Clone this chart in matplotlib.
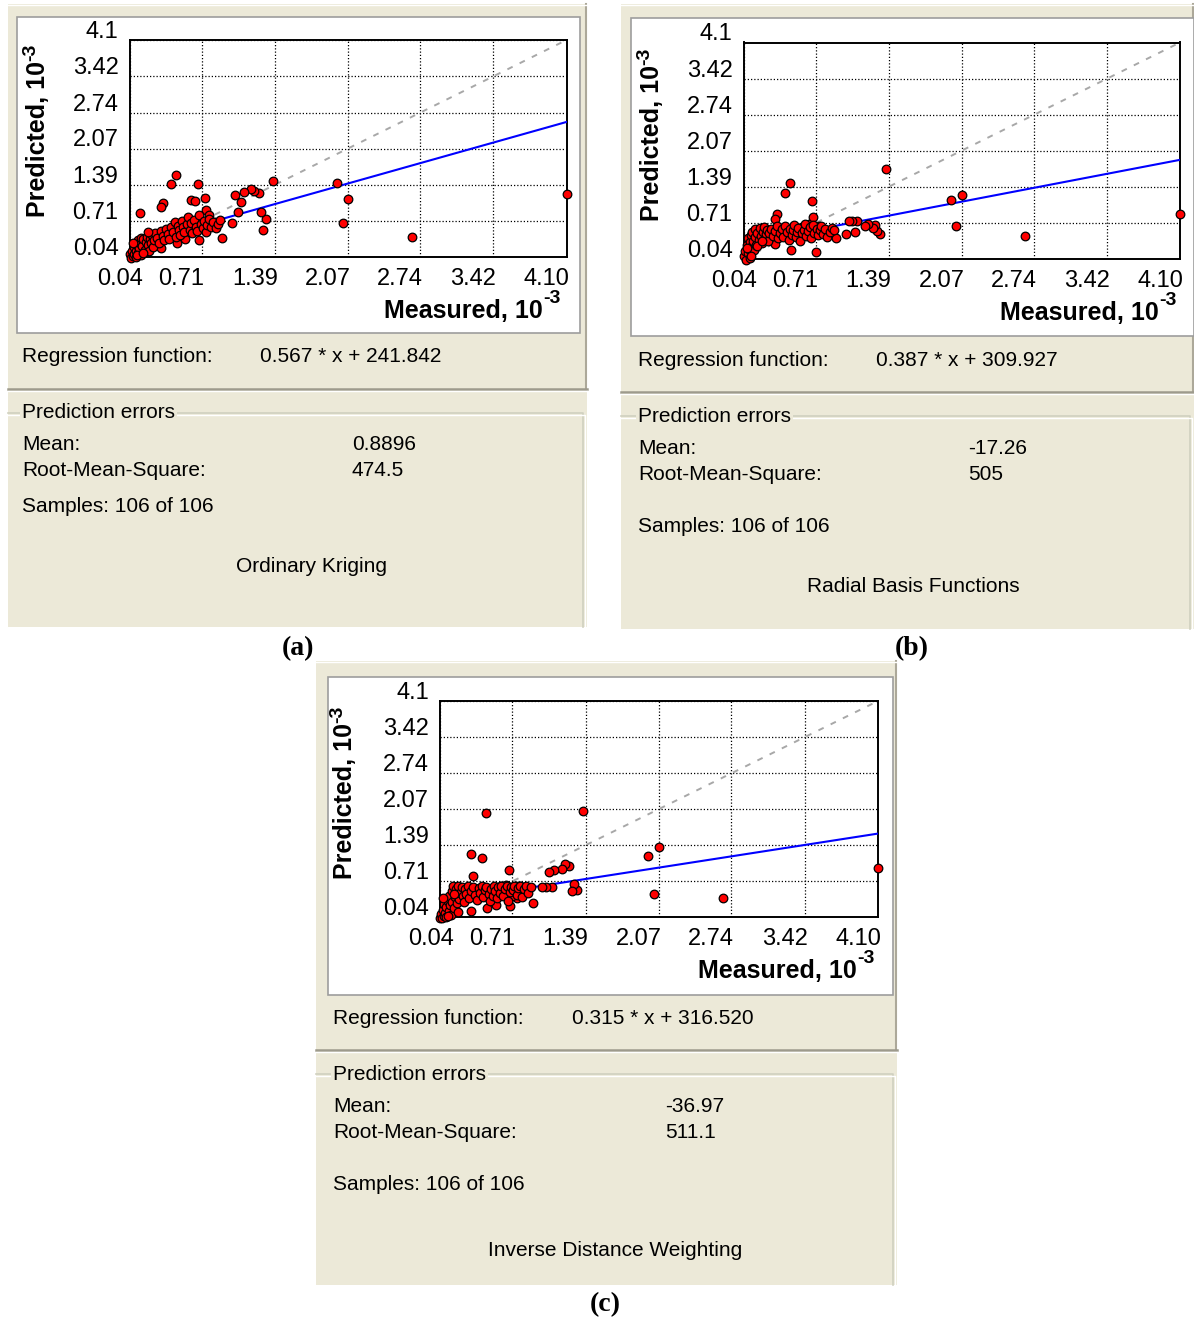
import matplotlib
matplotlib.use('Agg')
import matplotlib.pyplot as plt
from matplotlib.patches import Rectangle

# ---------------- data ----------------
TICKS = [0.04, 0.71, 1.39, 2.07, 2.74, 3.42, 4.10]
X_TICK_LABELS = ['0.04', '0.71', '1.39', '2.07', '2.74', '3.42', '4.10']
Y_TICK_LABELS = ['0.04', '0.71', '1.39', '2.07', '2.74', '3.42', '4.1']

# measured values (10^-3), shared by all three methods
measured_out = [4.10, 2.66, 2.07, 1.97, 2.02]
measured_mid = [1.37, 1.31, 1.28, 1.26, 1.24, 1.20, 1.17, 1.10, 1.08, 1.05, 1.02, 0.99, 0.90]
measured_hi = [0.47, 0.43, 0.68, 0.14, 0.35, 0.33, 0.61, 0.65, 0.74, 0.75, 0.78, 0.69, 0.56,
               0.48, 0.33, 0.71, 0.83]
measured_cl = [0.04, 0.05, 0.06, 0.07, 0.08, 0.08, 0.09, 0.10, 0.10, 0.11,
               0.12, 0.12, 0.13, 0.14, 0.15, 0.15, 0.16, 0.17, 0.18, 0.19,
               0.20, 0.21, 0.22, 0.23, 0.24, 0.25, 0.26, 0.27, 0.28, 0.30,
               0.31, 0.33, 0.35, 0.36, 0.38, 0.40, 0.41, 0.43, 0.44, 0.46,
               0.47, 0.49, 0.50, 0.51, 0.53, 0.54, 0.55, 0.57, 0.58, 0.60,
               0.61, 0.62, 0.64, 0.66, 0.67, 0.69, 0.70, 0.72, 0.73, 0.75,
               0.76, 0.78, 0.80, 0.82, 0.84, 0.86, 0.88, 0.07, 0.11, 0.17, 0.21]

# predicted, Ordinary Kriging
ok_out = [1.22, 0.41, 1.13, 1.43, 0.67]
ok_mid = [1.46, 0.75, 0.55, 0.89, 1.24, 1.27, 1.31, 1.26, 1.07, 0.89, 1.20, 0.67, 0.40]
ok_hi = [1.57, 1.41, 1.41, 0.86, 1.05, 0.97, 1.11, 1.08, 1.15, 0.92, 0.83, 0.36, 0.37,
         0.31, 0.21, 0.60, 0.70]
ok_cl = [0.10, 0.02, 0.15, 0.05, 0.22, 0.10, 0.30, 0.16, 0.04, 0.26,
         0.35, 0.12, 0.20, 0.30, 0.40, 0.08, 0.25, 0.37, 0.18, 0.32,
         0.42, 0.27, 0.15, 0.38, 0.30, 0.45, 0.22, 0.35, 0.48, 0.40,
         0.30, 0.52, 0.44, 0.36, 0.56, 0.47, 0.38, 0.60, 0.50, 0.70,
         0.42, 0.62, 0.54, 0.46, 0.72, 0.60, 0.50, 0.66, 0.78, 0.55,
         0.68, 0.48, 0.74, 0.60, 0.52, 0.82, 0.66, 0.58, 0.72, 0.50,
         0.64, 0.76, 0.60, 0.70, 0.58, 0.66, 0.74, 0.30, 0.08, 0.12, 0.50]

# predicted, Radial Basis Functions
rbf_out = [0.88, 0.46, 1.24, 1.15, 0.66]
rbf_mid = [1.72, 0.51, 0.56, 0.67, 0.62, 0.70, 0.66, 0.74, 0.55, 0.74, 0.74, 0.51, 0.42]
rbf_hi = [1.46, 1.27, 1.12, 0.55, 0.88, 0.78, 0.62, 0.70, 0.66, 0.55, 0.60, 0.83, 0.62,
          0.20, 0.32, 0.17, 0.51]
rbf_cl = [0.10, 0.18, 0.02, 0.30, 0.14, 0.42, 0.22, 0.35, 0.06, 0.48,
          0.27, 0.55, 0.38, 0.20, 0.60, 0.45, 0.30, 0.52, 0.40, 0.62,
          0.47, 0.34, 0.55, 0.64, 0.43, 0.50, 0.57, 0.38, 0.53, 0.60,
          0.46, 0.56, 0.66, 0.42, 0.52, 0.60, 0.45, 0.65, 0.54, 0.40,
          0.60, 0.48, 0.57, 0.68, 0.44, 0.55, 0.62, 0.38, 0.52, 0.58,
          0.70, 0.46, 0.56, 0.63, 0.43, 0.68, 0.53, 0.60, 0.48, 0.57,
          0.65, 0.50, 0.59, 0.45, 0.55, 0.62, 0.58, 0.25, 0.10, 0.28, 0.38]

# predicted, Inverse Distance Weighting
idw_out = [0.96, 0.39, 1.35, 1.19, 0.47]
idw_mid = [2.03, 0.55, 0.66, 0.52, 1.00, 1.04, 0.95, 0.92, 0.61, 0.88, 0.61, 0.61, 0.31]
idw_hi = [2.00, 1.15, 0.93, 0.45, 0.81, 1.23, 0.62, 0.65, 0.62, 0.39, 0.62, 0.24, 0.26,
          0.20, 0.15, 0.43, 0.55]
idw_cl = [0.03, 0.10, 0.02, 0.18, 0.06, 0.28, 0.12, 0.22, 0.04, 0.35,
          0.15, 0.44, 0.26, 0.08, 0.52, 0.32, 0.63, 0.20, 0.42, 0.56,
          0.30, 0.62, 0.38, 0.50, 0.60, 0.44, 0.33, 0.56, 0.47, 0.63,
          0.40, 0.53, 0.60, 0.45, 0.36, 0.58, 0.50, 0.63, 0.42, 0.55,
          0.61, 0.47, 0.34, 0.57, 0.44, 0.63, 0.52, 0.39, 0.60, 0.49,
          0.63, 0.43, 0.56, 0.62, 0.35, 0.51, 0.60, 0.54, 0.63, 0.46,
          0.58, 0.63, 0.41, 0.56, 0.63, 0.50, 0.60, 0.40, 0.05, 0.48, 0.14]

methods = ['Ordinary Kriging', 'Radial Basis Functions', 'Inverse Distance Weighting']
slopes = [0.567, 0.387, 0.315]
intercepts = [241.842, 309.927, 316.520]   # 10^-6 units
mean_err = ['0.8896', '-17.26', '-36.97']
rms_err = ['474.5', '505', '511.1']
samples = ['Samples: 106 of 106'] * 3
panel_tags = ['(a)', '(b)', '(c)']

measured = measured_out + measured_mid + measured_hi + measured_cl
predicted = [ok_out + ok_mid + ok_hi + ok_cl,
             rbf_out + rbf_mid + rbf_hi + rbf_cl,
             idw_out + idw_mid + idw_hi + idw_cl]

# ---------------- layout ----------------
W, H = 1194, 1320
fig = plt.figure(figsize=(W / 100, H / 100), dpi=100)
fig.patch.set_facecolor('white')
bg = fig.add_axes([0, 0, 1, 1])
bg.set_xlim(0, W)
bg.set_ylim(H, 0)
bg.axis('off')

BEIGE = '#ECE9D8'
EDGE = '#ACA899'
UI = 'Liberation Sans'

layouts = [
    dict(panel=(8, 4, 587, 627), box=(17, 17, 580, 333), frame=(129.5, 40, 566.5, 257),
         sep=389, gb=413, gbr=583, tx=22, vx_reg=260, vx_err=352,
         y_reg=357, y_pe=413, y_mean=445, y_rms=471, y_smp=507, y_meth=566, x_meth=312,
         pred_xy=(38, 139), meas_xy=(543, 311), tag_xy=(298, 649)),
    dict(panel=(621, 4, 1194, 629), box=(631, 18, 1194, 336), frame=(743.5, 42.5, 1180, 258.7),
         sep=392, gb=416, gbr=1190, tx=638, vx_reg=876, vx_err=968,
         y_reg=361, y_pe=416, y_mean=448, y_rms=474, y_smp=526, y_meth=587, x_meth=913,
         pred_xy=(652, 143), meas_xy=(1159, 313), tag_xy=(912, 649)),
    dict(panel=(316, 661, 897, 1285), box=(328, 677, 893, 995), frame=(440, 701, 878, 917),
         sep=1050, gb=1074, gbr=893, tx=333, vx_reg=572, vx_err=665,
         y_reg=1018, y_pe=1074, y_mean=1106, y_rms=1133, y_smp=1185, y_meth=1250, x_meth=615,
         pred_xy=(345, 801), meas_xy=(857, 971), tag_xy=(605, 1305)),
]

for k, L in enumerate(layouts):
    x0, y0, x1, y1 = L['panel']
    bg.add_patch(Rectangle((x0, y0), x1 - x0, y1 - y0, facecolor=BEIGE, edgecolor='none', zorder=0))
    bg.plot([x1 - 1, x1 - 1], [y0, L['sep']], color=EDGE, lw=1.5, zorder=1)
    bg.plot([x0, x1], [y0 + 1, y0 + 1], color='white', lw=1.0, zorder=1)
    bx0, by0, bx1, by1 = L['box']
    bg.add_patch(Rectangle((bx0, by0), bx1 - bx0, by1 - by0, facecolor='white',
                           edgecolor='#9D9D9D', lw=1.2, zorder=1))
    bg.plot([x0, x1], [L['sep'], L['sep']], color='#9D9A8C', lw=1.8, zorder=1)
    bg.plot([x0, x1], [L['sep'] + 2, L['sep'] + 2], color='white', lw=1.0, zorder=1)
    gbr = L['gbr']
    bg.plot([x0, gbr, gbr], [L['gb'], L['gb'], y1], color='#D0D0BF', lw=1.2, zorder=1)
    bg.plot([x0, gbr + 1.5, gbr + 1.5], [L['gb'] + 1.5, L['gb'] + 1.5, y1], color='white', lw=1.0, zorder=1)

    tx = L['tx']
    fs = 15
    bg.text(tx, L['y_reg'], 'Regression function:', fontsize=fs, family=UI, va='center', ha='left')
    bg.text(L['vx_reg'], L['y_reg'], f'{slopes[k]:.3f} * x + {intercepts[k]:.3f}', fontsize=fs,
            family=UI, va='center', ha='left')
    bg.text(tx, L['y_pe'], 'Prediction errors', fontsize=fs, family=UI, va='center', ha='left',
            zorder=3, bbox=dict(facecolor=BEIGE, edgecolor='none', pad=1.5))
    bg.text(tx, L['y_mean'], 'Mean:', fontsize=fs, family=UI, va='center', ha='left')
    bg.text(L['vx_err'], L['y_mean'], mean_err[k], fontsize=fs, family=UI, va='center', ha='left')
    bg.text(tx, L['y_rms'], 'Root-Mean-Square:', fontsize=fs, family=UI, va='center', ha='left')
    bg.text(L['vx_err'], L['y_rms'], rms_err[k], fontsize=fs, family=UI, va='center', ha='left')
    bg.text(tx, L['y_smp'], samples[k], fontsize=fs, family=UI, va='center', ha='left')
    bg.text(L['x_meth'], L['y_meth'], methods[k], fontsize=fs, family=UI, va='center', ha='center')
    bg.text(*L['tag_xy'], panel_tags[k], fontsize=20, family='Liberation Serif', weight='bold',
            va='center', ha='center')

    px, py = L['pred_xy']
    t = bg.text(px, py, 'Predicted, 10', fontsize=18, family=UI, weight='bold', rotation=90,
                va='center', ha='center', zorder=4)
    bg.annotate('-3', xy=(0.55, 1.0), xycoords=t, fontsize=14, family=UI, weight='bold',
                rotation=90, ha='right', va='bottom', zorder=4)
    mx, my = L['meas_xy']
    t2 = bg.text(mx, my, 'Measured, 10', fontsize=18, family=UI, weight='bold',
                 va='center', ha='right', zorder=4)
    bg.annotate('-3', xy=(1.0, 0.68), xycoords=t2, fontsize=14, family=UI, weight='bold',
                ha='left', va='bottom', zorder=4)

    fx0, fy0, fx1, fy1 = L['frame']
    ax = fig.add_axes([fx0 / W, 1 - fy1 / H, (fx1 - fx0) / W, (fy1 - fy0) / H])
    ax.set_zorder(5)
    ax.set_facecolor('white')
    ax.set_xlim(TICKS[0], TICKS[-1])
    ax.set_ylim(TICKS[0], TICKS[-1])
    ax.set_xticks(TICKS)
    ax.set_yticks(TICKS)
    ax.tick_params(length=0, labelbottom=False, labelleft=False)
    ax.grid(True, color='black', lw=0.9, linestyle=(0, (1, 1.6)))
    ax.set_axisbelow(True)
    for s in ax.spines.values():
        s.set_linewidth(1.4)
        s.set_color('black')
    ax.plot([TICKS[0], TICKS[-1]], [TICKS[0], TICKS[-1]], color='#A8A8A8', lw=1.4,
            linestyle=(0, (3, 4)), zorder=2)
    xr = [TICKS[0], TICKS[-1]]
    yr = [slopes[k] * v + intercepts[k] / 1000 for v in xr]
    ax.plot(xr, yr, color='#0000FF', lw=1.5, zorder=3)
    ax.plot(measured, predicted[k], linestyle='none', marker='o', ms=6.2, mfc='#FF0000',
            mec='black', mew=0.9, clip_on=False, zorder=6)
    for i, (v, lab) in enumerate(zip(TICKS, X_TICK_LABELS)):
        dx = -9 if i == 0 else -20
        ax.annotate(lab, xy=(v, 0), xycoords=('data', 'axes fraction'), xytext=(dx, -22),
                    textcoords='offset pixels', ha='center', va='center', fontsize=17,
                    family=UI, annotation_clip=False)
    for v, lab in zip(TICKS, Y_TICK_LABELS):
        ax.annotate(lab, xy=(0, v), xycoords=('axes fraction', 'data'), xytext=(-11, 8),
                    textcoords='offset pixels', ha='right', va='center', fontsize=17,
                    family=UI, annotation_clip=False)

fig.savefig('out.png', dpi=100, facecolor='white')
